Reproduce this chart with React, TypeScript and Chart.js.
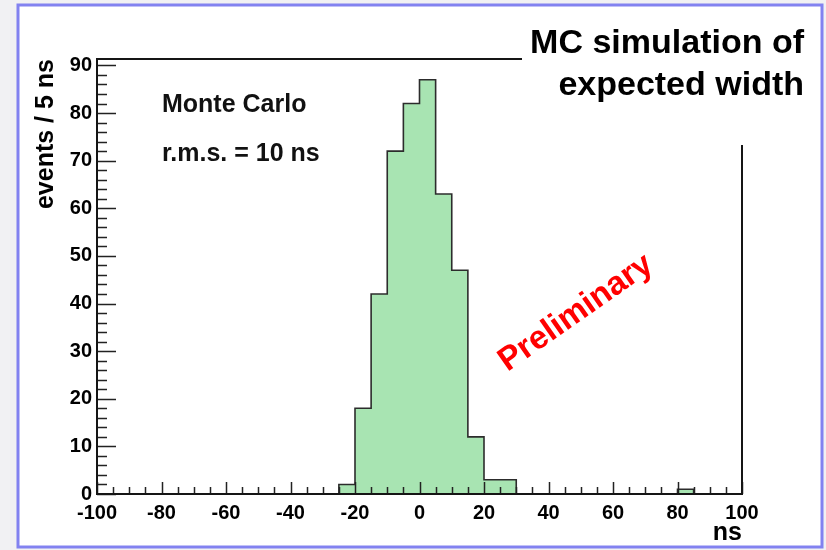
import React, { useEffect, useRef } from 'react';
import { Chart, registerables } from 'chart.js';

Chart.register(...registerables);

// Histogram bins (low edges, 5 ns wide) and their contents
const binLowEdges = [
  -100, -95, -90, -85, -80, -75, -70, -65, -60, -55,
  -50, -45, -40, -35, -30, -25, -20, -15, -10, -5,
  0, 5, 10, 15, 20, 25, 30, 35, 40, 45,
  50, 55, 60, 65, 70, 75, 80, 85, 90, 95,
];
const lastUpperEdge = 100;
const counts = [
  0, 0, 0, 0, 0, 0, 0, 0, 0, 0,
  0, 0, 0, 0, 0, 2, 18, 42, 72, 82,
  87, 63, 47, 12, 3, 3, 0, 0, 0, 0,
  0, 0, 0, 0, 0, 0, 1, 0, 0, 0,
];
const xTickValues = [-100, -80, -60, -40, -20, 0, 20, 40, 60, 80, 100];
const yTickValues = [0, 10, 20, 30, 40, 50, 60, 70, 80, 90];
const xMin = -100;
const xMax = 100;
const yMax = 91.35;
const xTitle = 'ns';
const yTitle = 'events / 5 ns';
const labelMC = 'Monte Carlo';
const labelRms = 'r.m.s. = 10 ns';
const headline = ['MC simulation of', 'expected width'];
const watermark = 'Preliminary';

const FONT = '"Liberation Sans", Arial, Helvetica, sans-serif';

const decorPlugin = {
  id: 'decor',
  beforeDraw(chart: any) {
    const ctx = chart.ctx;
    ctx.save();
    ctx.fillStyle = '#f1f1f3';
    ctx.fillRect(0, 0, chart.width, chart.height);
    ctx.fillStyle = '#ffffff';
    ctx.fillRect(18, 5, 804, 542);
    ctx.strokeStyle = 'rgb(130,130,240)';
    ctx.lineWidth = 3;
    ctx.strokeRect(18, 5, 804, 542);
    ctx.restore();
  },
  afterDatasetsDraw(chart: any) {
    const ctx = chart.ctx;
    const a = chart.chartArea;
    const xs = chart.scales.x;
    const ys = chart.scales.y;
    ctx.save();
    // inward tick marks
    ctx.strokeStyle = '#222';
    ctx.lineWidth = 1.5;
    ctx.beginPath();
    for (let v = xMin; v <= xMax; v += 5) {
      const px = Math.round(xs.getPixelForValue(v)) + 0.5;
      const len = v % 20 === 0 ? 12 : 7;
      ctx.moveTo(px, a.bottom);
      ctx.lineTo(px, a.bottom - len);
    }
    for (let v = 0; v <= 90; v += 2) {
      const py = Math.round(ys.getPixelForValue(v)) + 0.5;
      const len = v % 10 === 0 ? 19 : 10;
      ctx.moveTo(a.left, py);
      ctx.lineTo(a.left + len, py);
    }
    ctx.stroke();
    // frame
    ctx.lineWidth = 2;
    ctx.strokeStyle = '#151515';
    ctx.strokeRect(a.left, a.top, a.right - a.left, a.bottom - a.top);
    // white box for headline
    ctx.fillStyle = '#ffffff';
    ctx.fillRect(522, 12, 292, 133);
    ctx.fillStyle = '#000';
    ctx.textAlign = 'right';
    ctx.textBaseline = 'alphabetic';
    ctx.font = `bold 34px ${FONT}`;
    ctx.fillText(headline[0], 804, 53);
    ctx.fillText(headline[1], 804, 95);
    // labels
    ctx.textAlign = 'left';
    ctx.font = `bold 25px ${FONT}`;
    ctx.fillStyle = '#111';
    ctx.fillText(labelMC, 162, 112);
    ctx.fillText(labelRms, 162, 161);
    // watermark
    ctx.save();
    ctx.translate(576, 313);
    ctx.rotate(-35 * Math.PI / 180);
    ctx.fillStyle = '#ff0000';
    ctx.textAlign = 'center';
    ctx.textBaseline = 'middle';
    ctx.font = `bold 33px ${FONT}`;
    ctx.fillText(watermark, 0, 0);
    ctx.restore();
    ctx.restore();
  },
};

export default function App() {
  const ref = useRef<HTMLCanvasElement | null>(null);
  useEffect(() => {
    if (!ref.current) return;
    const points = binLowEdges.map((x, i) => ({ x, y: counts[i] }));
    points.push({ x: lastUpperEdge, y: counts[counts.length - 1] });
    const chart = new Chart(ref.current, {
      type: 'line',
      data: {
        datasets: [
          {
            data: points,
            stepped: 'before',
            fill: 'origin',
            backgroundColor: 'rgb(168,228,178)',
            borderColor: '#2c2c2c',
            borderWidth: 1.6,
            pointRadius: 0,
            tension: 0,
          },
        ],
      },
      options: {
        animation: false,
        responsive: false,
        devicePixelRatio: 1,
        layout: { padding: { left: 0, top: 59, right: 84, bottom: 0 } },
        plugins: { legend: { display: false }, tooltip: { enabled: false } },
        scales: {
          x: {
            type: 'linear',
            min: xMin,
            max: xMax,
            grid: { display: false, drawTicks: false },
            border: { display: false },
            afterBuildTicks: (s: any) => {
              s.ticks = xTickValues.map((v) => ({ value: v }));
            },
            afterFit: (s: any) => {
              s.height = 56;
            },
            ticks: {
              autoSkip: false,
              maxRotation: 0,
              padding: 7,
              color: '#000',
              font: { family: FONT, size: 20, weight: 'bold' },
            },
            title: {
              display: true,
              text: xTitle,
              align: 'end',
              color: '#000',
              font: { family: FONT, size: 25, weight: 'bold' },
              padding: { top: 0, bottom: 2 },
            },
          },
          y: {
            type: 'linear',
            min: 0,
            max: yMax,
            grid: { display: false, drawTicks: false },
            border: { display: false },
            afterBuildTicks: (s: any) => {
              s.ticks = yTickValues.map((v) => ({ value: v }));
            },
            afterFit: (s: any) => {
              s.width = 97;
            },
            ticks: {
              padding: 5,
              color: '#000',
              font: { family: FONT, size: 20, weight: 'bold' },
            },
            title: {
              display: true,
              text: yTitle,
              align: 'end',
              color: '#000',
              font: { family: FONT, size: 25, weight: 'bold' },
              padding: { top: 31, bottom: 0 },
            },
          },
        },
      },
      plugins: [decorPlugin],
    } as any);
    return () => chart.destroy();
  }, []);
  return (
    <div style={{ position: 'fixed', left: 0, top: 0, width: 826, height: 550 }}>
      <canvas ref={ref} width={826} height={550} style={{ display: 'block' }} />
    </div>
  );
}
